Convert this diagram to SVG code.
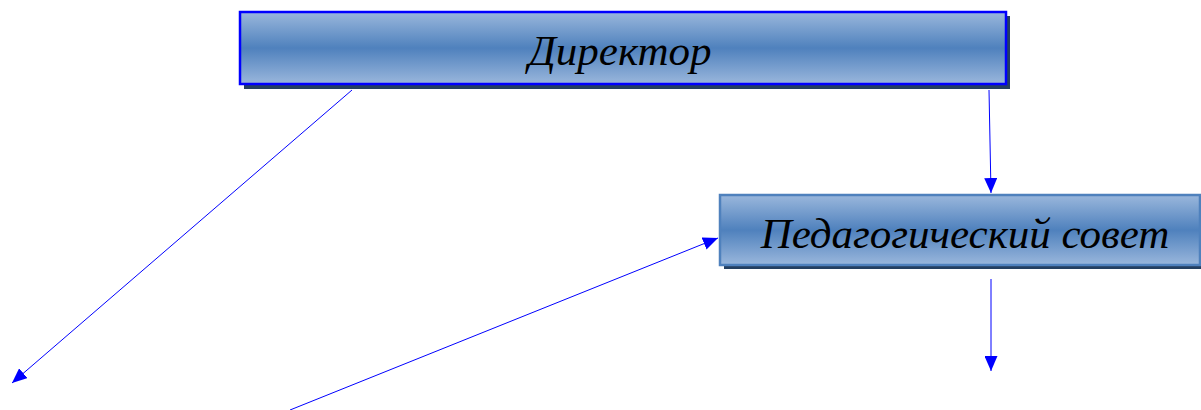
<svg xmlns="http://www.w3.org/2000/svg" width="1201" height="410" viewBox="0 0 1201 410">
<style>
.lbl{font-family:"Liberation Serif","Times New Roman",serif;font-style:italic;fill:#000;text-anchor:middle}
.con{stroke:#0000ff;stroke-width:1;fill:none}
.shadow{fill:#243f60}
</style>
<defs>
<linearGradient id="g" x1="0" y1="0" x2="0" y2="1">
<stop offset="0" stop-color="#9ab7dc"/>
<stop offset="0.5" stop-color="#4f81bd"/>
<stop offset="1" stop-color="#9ab7dc"/>
</linearGradient>
<marker id="ah" markerWidth="15" markerHeight="13" refX="15" refY="6.5" orient="auto" markerUnits="userSpaceOnUse">
<path d="M0,0 L15,6.5 L0,13 Z" fill="#0000ff"/>
</marker>
</defs>
<rect width="1201" height="410" fill="#fff"/>
<g id="connectors">
<line class="con" x1="352" y1="90" x2="12" y2="383" marker-end="url(#ah)"/>
<line class="con" x1="989" y1="90" x2="991" y2="193" marker-end="url(#ah)"/>
<line class="con" x1="290" y1="410" x2="718" y2="238" marker-end="url(#ah)"/>
<line class="con" x1="991" y1="279" x2="991" y2="371" marker-end="url(#ah)"/>
</g>
<g id="director">
<rect class="shadow" x="244" y="16" width="766" height="73"/>
<rect x="240" y="12" width="766" height="72" fill="url(#g)" stroke="#0000ff" stroke-width="2.5"/>
<text class="lbl" x="620" y="65" font-size="43">Директор</text>
</g>
<g id="pedsovet">
<rect class="shadow" x="724" y="199" width="480" height="70"/>
<rect x="720" y="195" width="480" height="70" fill="url(#g)" stroke="#4f81bd" stroke-width="2.5"/>
<text class="lbl" x="965" y="248" font-size="43">Педагогический совет</text>
</g>
</svg>
